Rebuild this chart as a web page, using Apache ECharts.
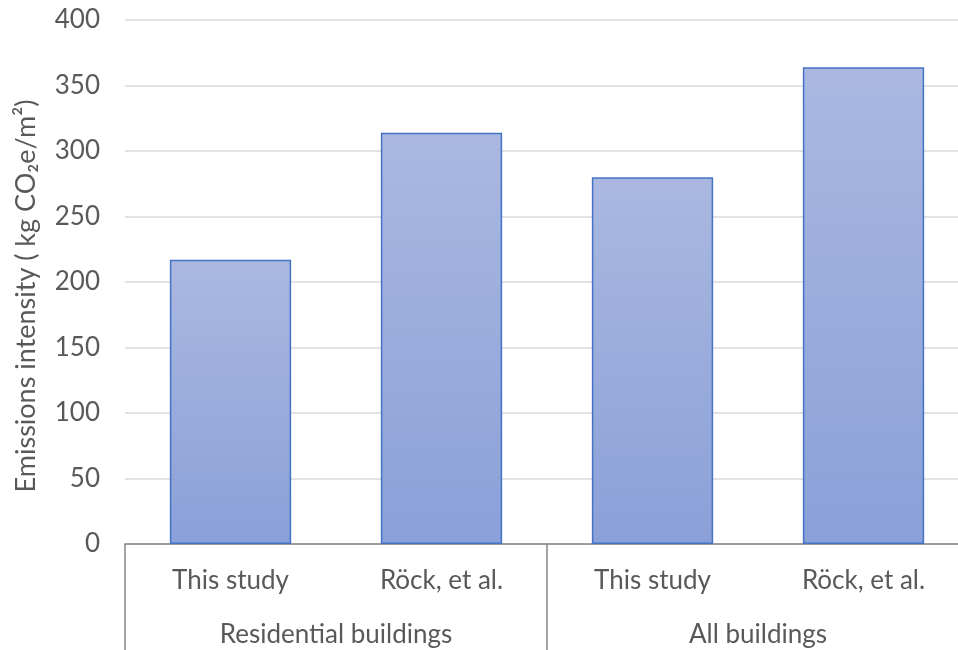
<!DOCTYPE html>
<html>
<head>
<meta charset="utf-8">
<script src="https://cdn.jsdelivr.net/npm/echarts@6/dist/echarts.min.js"></script>
<style>
  html, body { margin: 0; padding: 0; background: #ffffff; overflow: hidden; width: 958px; height: 650px; }
  /* the plot area continues a few pixels past the right edge of the page */
  #chart { width: 976px; height: 650px; }
</style>
</head>
<body>
<div id="chart"></div>
<script>
// Embodied emissions intensity by study, grouped by building scope
const studies = ["This study", "Röck, et al.", "This study", "Röck, et al."];
const groups = ["Residential buildings", "All buildings"];
const intensity = [217, 314, 280, 364];
const yTicks = { min: 0, max: 400, step: 50 };
const yTitle = "Emissions intensity ( kg CO\u2082e/m\u00b2)";

const FONT = "Lato";
const TEXT = "#595959";

const chart = echarts.init(document.getElementById("chart"), null, { renderer: "canvas" });

chart.setOption({
  animation: false,
  grid: { left: 125, top: 20, right: 7, bottom: 106, containLabel: false },
  xAxis: [
    {
      type: "category",
      data: studies,
      position: "bottom",
      axisLine: { show: true, lineStyle: { color: "#868686", width: 1.5 } },
      axisTick: { show: false },
      axisLabel: { color: TEXT, fontFamily: FONT, fontSize: 26, margin: 24 },
      splitLine: { show: false }
    },
    {
      type: "category",
      data: groups,
      position: "bottom",
      axisLine: { show: false },
      axisTick: { show: true, alignWithLabel: false, length: 120, lineStyle: { color: "#868686", width: 1.5 } },
      axisLabel: { color: TEXT, fontFamily: FONT, fontSize: 26, margin: 78 },
      splitLine: { show: false }
    }
  ],
  yAxis: {
    type: "value",
    min: yTicks.min,
    max: yTicks.max,
    interval: yTicks.step,
    axisLine: { show: false },
    axisTick: { show: false },
    axisLabel: { color: TEXT, fontFamily: FONT, fontSize: 26, margin: 25 },
    splitLine: { lineStyle: { color: "#d9d9d9", width: 1.5 } }
  },
  graphic: [
    {
      type: "text",
      x: 26,
      y: 296,
      rotation: Math.PI / 2,
      style: {
        text: yTitle,
        fill: TEXT,
        font: "27px " + FONT,
        align: "center",
        verticalAlign: "middle"
      }
    }
  ],
  series: [
    {
      type: "bar",
      xAxisIndex: 0,
      data: intensity,
      barCategoryGap: "42.5%",
      itemStyle: {
        color: new echarts.graphic.LinearGradient(0, 0, 0, 1, [
          { offset: 0, color: "#aab8e1" },
          { offset: 1, color: "#8aa0d8" }
        ]),
        borderColor: "#4472c4",
        borderWidth: 1.5
      }
    }
  ]
});
</script>
</body>
</html>
